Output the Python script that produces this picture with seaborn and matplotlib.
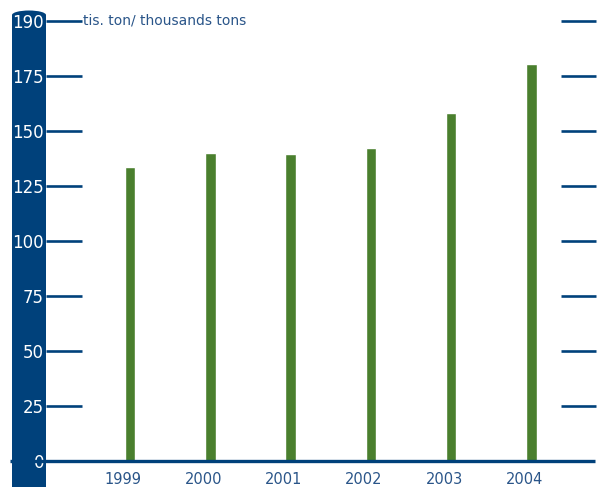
import matplotlib
matplotlib.use("Agg")
import matplotlib.pyplot as plt
import matplotlib.transforms as mtransforms
from matplotlib.patches import Rectangle, Ellipse
import seaborn as sns
import pandas as pd

years = ["1999", "2000", "2001", "2002", "2003", "2004"]
values = [133.6, 140.0, 139.5, 142.3, 158.2, 180.5]
tick_values = [0, 25, 50, 75, 100, 125, 150, 175, 200]
tick_labels = ["0", "25", "50", "75", "100", "125", "150", "175", "190"]
unit_label = "tis. ton/ thousands tons"

navy = "#00417b"
green = "#4a7f2e"
text_blue = "#2a5589"

W, H = 598, 487
df = pd.DataFrame({"year": years, "value": values})

sns.set_theme(style="white")
plt.rcParams["font.family"] = ["DejaVu Sans"]

fig = plt.figure(figsize=(W / 100, H / 100), dpi=100)
ax = fig.add_axes([0, (H - 461) / H, 1, 461 / H])
ax.patch.set_alpha(0)

sns.barplot(data=df, x="year", y="value", color=green, width=10.5 / 80.3,
            saturation=1, ax=ax, zorder=2)

ax.set_xlim(-130 / 80.3, (W - 130) / 80.3)
ax.set_ylim(0, 461 / 2.2)
ax.set_xlabel("")
ax.set_ylabel("")
for s in ax.spines.values():
    s.set_visible(False)


def fx(px):
    return px / W


def fy(py):
    return 1 - py / H


# vertical navy band on the left
ax.add_patch(Rectangle((fx(12), 0), fx(46) - fx(12), fy(15), transform=fig.transFigure,
                       facecolor=navy, edgecolor="none", clip_on=False, zorder=0.5))
ax.add_patch(Ellipse((fx(29), fy(15)), fx(34), 9 / H, transform=fig.transFigure,
                     facecolor=navy, edgecolor="none", clip_on=False, zorder=0.5))

# short tick lines on both sides
yt = ax.get_yaxis_transform()
ax.hlines(tick_values[1:], fx(46), fx(82), transform=yt, color=navy, lw=1.9, clip_on=False, zorder=3)
ax.hlines(tick_values[1:], fx(561), fx(596), transform=yt, color=navy, lw=1.9, clip_on=False, zorder=3)
# baseline
ax.hlines([0], fx(10), fx(595), transform=yt, color=navy, lw=2.4, clip_on=False, zorder=3)

ax.set_yticks(tick_values, labels=tick_labels)
ax.tick_params(axis="y", length=0, pad=-44 * 0.72, labelsize=12, labelcolor="white")
for lab in ax.get_yticklabels():
    lab.set_horizontalalignment("right")

ax.tick_params(axis="x", length=0, pad=8, labelsize=10.5, labelcolor=text_blue)
shift = mtransforms.ScaledTranslation(-7 / 100, 0, fig.dpi_scale_trans)
for lab in ax.get_xticklabels():
    lab.set_transform(lab.get_transform() + shift)

fig.text(fx(83), fy(21), unit_label, color=text_blue, fontsize=10, va="center", ha="left")

fig.savefig("out.png", dpi=100)
